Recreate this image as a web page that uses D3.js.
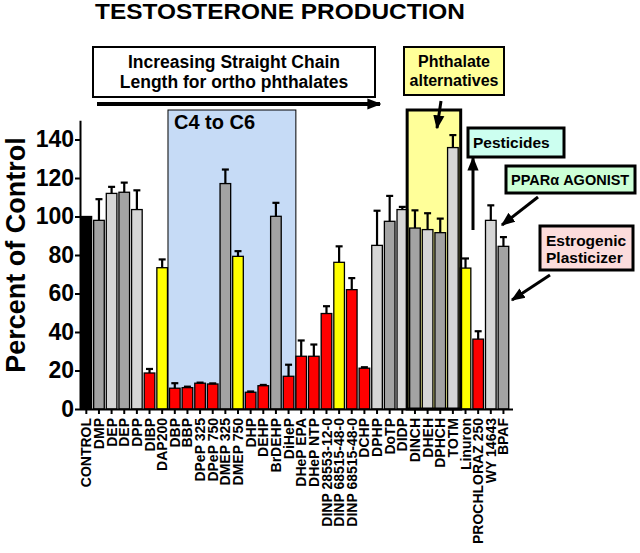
<!DOCTYPE html>
<html lang="en">
<head>
<meta charset="UTF-8">
<title>Testosterone production</title>
<style>
  body { margin: 0; background: #fff; }
  svg { font-family: "Liberation Sans", Arial, sans-serif; font-weight: bold; }
</style>
</head>
<body>
<div class="canvas"></div>
<script src="https://cdnjs.cloudflare.com/ajax/libs/d3/7.8.2/d3.min.js"></script>
<script>
// data
const categories = ["CONTROL", "DMP", "DEP", "DEP", "DPP", "DIBP", "DAP200", "DBP", "BBP",
  "DPeP 325", "DPeP 750", "DMEP 325", "DMEP 750", "DHP", "DEHP", "BrDEHP", "DiHeP",
  "DHeP EPA", "DHeP NTP", "DINP 28553-12-0", "DINP 68515-48-0", "DINP 68515-48-0",
  "DCHP", "DPHP", "DoTP", "DIDP", "DINCH", "DHEH", "DPHCH", "TOTM",
  "Linuron", "PROCHLORAZ 250", "WY 14643", "BPAF"];
const values = [100, 98, 112, 112.6, 103.6, 18.7, 73.4, 10.8, 11.1,
  13.4, 13, 117.1, 79.3, 8.7, 12.1, 100.1, 17,
  27.4, 27.4, 49.6, 76.2, 62,
  21.2, 85, 97.5, 103.6, 94, 93.2, 91.6, 135.8,
  73.2, 36.3, 98, 84.5];
const sem = [0, 11, 3.4, 5, 10, 2.1, 4.3, 2.6, 0.5,
  0.3, 0.3, 7.3, 2.7, 0.4, 0.4, 7, 6,
  8.2, 6.1, 3.8, 8.3, 6,
  0.5, 18, 13.2, 1.4, 9.2, 8.5, 7.3, 6.5,
  5, 4.1, 7.8, 4.8];
// k = control, d = dark grey, l = light grey, r = red, y = yellow
const groups = ["k", "d", "l", "d", "l", "r", "y", "r", "r",
  "r", "r", "d", "y", "r", "r", "d", "r",
  "r", "r", "r", "y", "r",
  "r", "l", "d", "l", "d", "l", "d", "l",
  "y", "r", "l", "d"];
const yTicks = [0, 20, 40, 60, 80, 100, 120, 140];

const fills = { k: "#000000", d: "#a3a3a3", l: "#d6d6d6", r: "#ff0000", y: "#ffff00" };

const width = 640, height = 553;
const svg = d3.select(".canvas").append("svg")
  .attr("width", width).attr("height", height);

const x = d3.scaleBand()
  .domain(d3.range(categories.length))
  .range([80, 80 + 34 * 12.64])
  .paddingInner(0.16)
  .paddingOuter(0.08);

const y = d3.scaleLinear()
  .domain([0, 150])
  .range([409, 120.25]);

const defs = svg.append("defs");
defs.append("marker")
  .attr("id", "head")
  .attr("markerUnits", "userSpaceOnUse")
  .attr("viewBox", "0 0 10 10")
  .attr("refX", 9).attr("refY", 5)
  .attr("markerWidth", 14).attr("markerHeight", 14)
  .attr("orient", "auto")
  .append("path").attr("d", "M0,1 L10,5 L0,9 Z").attr("fill", "#000");

// title
svg.append("text")
  .attr("x", 95).attr("y", 19)
  .attr("font-size", 22)
  .attr("textLength", 370)
  .attr("lengthAdjust", "spacingAndGlyphs")
  .text("TESTOSTERONE PRODUCTION");

// C4 to C6 box (behind bars)
const c4left = x(7) - 1.5, c4right = x(16) + x.bandwidth() + 2;
svg.append("rect")
  .attr("x", c4left).attr("y", 110)
  .attr("width", c4right - c4left).attr("height", y(0) - 110)
  .attr("fill", "#c6dbf6").attr("stroke", "#000").attr("stroke-width", 1);
svg.append("text")
  .attr("x", c4left + 6).attr("y", 129)
  .attr("font-size", 20)
  .text("C4 to C6");

// phthalate alternatives column (fill behind bars)
const altLeft = x(26) - 2.5, altRight = x(29) + x.bandwidth() + 2.5;
svg.append("rect")
  .attr("x", altLeft).attr("y", 110)
  .attr("width", altRight - altLeft).attr("height", y(0) - 110)
  .attr("fill", "#ffff99");

// bars
svg.append("g").selectAll("rect")
  .data(values)
  .join("rect")
  .attr("x", (d, i) => x(i))
  .attr("y", d => y(d))
  .attr("width", x.bandwidth())
  .attr("height", d => y(0) - y(d))
  .attr("fill", (d, i) => fills[groups[i]])
  .attr("stroke", "#000")
  .attr("stroke-width", 1.3);

// error bars
const err = svg.append("g").attr("stroke", "#000").attr("stroke-width", 2.2);
values.forEach((v, i) => {
  if (!sem[i]) return;
  const cx = x(i) + x.bandwidth() / 2;
  err.append("line")
    .attr("x1", cx).attr("x2", cx)
    .attr("y1", y(v)).attr("y2", y(v + sem[i]));
  err.append("line")
    .attr("x1", cx - 3.5).attr("x2", cx + 3.5)
    .attr("y1", y(v + sem[i])).attr("y2", y(v + sem[i]));
});

// thick border of the alternatives column
svg.append("rect")
  .attr("x", altLeft).attr("y", 110)
  .attr("width", altRight - altLeft).attr("height", y(0) - 110)
  .attr("fill", "none").attr("stroke", "#000").attr("stroke-width", 3);

// axes
const xAxis = d3.axisBottom(x)
  .tickSize(5).tickSizeOuter(0)
  .tickFormat(i => categories[i]);
const xAxisGroup = svg.append("g")
  .attr("transform", `translate(0, ${y(0)})`)
  .call(xAxis);
xAxisGroup.select(".domain").attr("d", "M80,0.5H513");
xAxisGroup.selectAll("line, .domain").attr("stroke", "#000").attr("stroke-width", 2);
xAxisGroup.selectAll("text")
  .attr("font-family", null)
  .attr("font-size", 14)
  .attr("fill", "#000")
  .attr("transform", "rotate(-90)")
  .attr("text-anchor", "end")
  .attr("x", -9).attr("y", 0).attr("dy", "0.36em");

const yAxis = d3.axisLeft(y)
  .tickValues(yTicks)
  .tickSize(5).tickSizeOuter(0);
const yAxisGroup = svg.append("g")
  .attr("transform", "translate(80, 0)")
  .call(yAxis);
yAxisGroup.selectAll("line, .domain").attr("stroke", "#000").attr("stroke-width", 2);
yAxisGroup.selectAll("text")
  .attr("font-family", null)
  .attr("font-size", 23)
  .attr("fill", "#000")
  .attr("x", -6);

svg.append("text")
  .attr("transform", "translate(25, 255) rotate(-90)")
  .attr("text-anchor", "middle")
  .attr("font-size", 27)
  .text("Percent of Control");

// annotation boxes
function box(x0, y0, w, h, fill, sw, lines, size, anchor, tx, ty, lh) {
  svg.append("rect")
    .attr("x", x0).attr("y", y0).attr("width", w).attr("height", h)
    .attr("fill", fill).attr("stroke", "#000").attr("stroke-width", sw);
  lines.forEach((t, i) => {
    svg.append("text")
      .attr("x", tx).attr("y", ty + i * lh)
      .attr("text-anchor", anchor)
      .attr("font-size", size)
      .text(t);
  });
}
function arrow(x1, y1, x2, y2, sw) {
  svg.append("line")
    .attr("x1", x1).attr("y1", y1).attr("x2", x2).attr("y2", y2)
    .attr("stroke", "#000").attr("stroke-width", sw)
    .attr("marker-end", "url(#head)");
}

box(93, 47, 282, 50, "#fff", 2, ["Increasing Straight Chain", "Length for ortho phthalates"],
  17.5, "middle", 234, 68, 19.5);
arrow(97, 104, 380, 104, 4);

box(404, 47, 100, 48, "#ffff99", 2, ["Phthalate", "alternatives"], 16, "middle", 454, 67, 19);
arrow(441, 101, 437, 128, 3);

box(468, 128, 96, 29, "#ccfff0", 3, ["Pesticides"], 15.5, "start", 473, 148, 0);
arrow(473, 230, 473, 158, 3);

box(506, 166, 129, 27, "#ccffd6", 3, ["PPARα  AGONIST"], 14.5, "start", 511, 185, 0);
arrow(538, 197, 502, 225, 3);

box(540, 226, 93, 44, "#fcdcdc", 3, ["Estrogenic", "Plasticizer"], 15.5, "start", 546, 246, 16.5);
arrow(550, 275, 512, 300, 3);
</script>
</body>
</html>
